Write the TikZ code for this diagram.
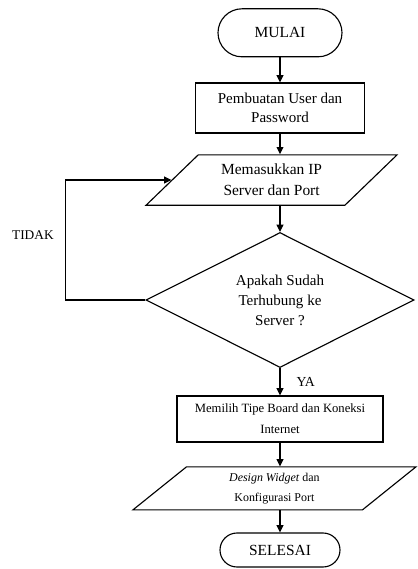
\documentclass[tikz,border=0pt]{standalone}
\usepackage{fontspec}
\setmainfont{Liberation Serif}
\usepackage{tikz}
\usetikzlibrary{arrows.meta,positioning,shapes.geometric,shapes.misc,calc}

\begin{document}
\begin{tikzpicture}[
    line width=0.8pt,
    term/.style={draw, rounded rectangle, inner sep=0pt, font=\fontsize{11}{14}\selectfont},
    proc/.style={draw, rectangle, align=center, inner sep=0pt},
    io/.style={draw, trapezium, trapezium stretches body, align=center, inner xsep=0pt},
    dec/.style={draw, diamond, aspect=2, align=center, inner sep=0pt, font=\fontsize{10.7}{14.2}\selectfont},
    arr/.style={-{Triangle[length=1.8mm,width=1.7mm]}},
  ]
    \useasboundingbox (0,0) rectangle (10.45,-14.225);
    % Steps
    \node[term, minimum width=3.1cm, minimum height=1.2cm] (mulai) at (7.0,-0.82) {MULAI};
    \node[proc, minimum width=4.225cm, minimum height=1.25cm, font=\fontsize{10.7}{13.5}\selectfont]
         (buatuser) at (7.0,-2.7) {Pembuatan User dan\\Password};
    \node[io, trapezium left angle=44, trapezium right angle=136, inner ysep=0.23cm,
          minimum width=6.275cm, minimum height=1.25cm, font=\fontsize{11}{15}\selectfont]
         (inputip) at (6.79,-4.5) {Memasukkan IP\\Server dan Port};
    \node[dec, minimum width=6.7cm, minimum height=3.375cm]
         (cekserver) at (7.0,-7.5) {Apakah Sudah\\Terhubung ke\\Server ?};
    \node[proc, minimum width=5.15cm, minimum height=1.15cm, font=\fontsize{9}{14.9}\selectfont]
         (pilihboard) at (7.0,-10.475) {Memilih Tipe Board dan Koneksi\\Internet};
    \node[io, trapezium left angle=38.5, trapezium right angle=141.5, inner ysep=0.15cm,
          minimum width=7.075cm, minimum height=1.075cm, font=\fontsize{8.5}{14}\selectfont]
         (widget) at (6.86,-12.21) {\textit{Design Widget} dan\\Konfigurasi Port};
    \node[term, minimum width=3.0cm, minimum height=0.85cm] (selesai) at (7.0,-13.75) {SELESAI};
    % Arrows
    \draw[arr] (mulai.south) -- (buatuser.north);
    \draw[arr] (buatuser.south) -- (buatuser.south |- inputip.north);
    \draw[arr] (cekserver.north |- inputip.south) -- (cekserver.north);
    \draw[arr] (cekserver.south) -- (cekserver.south |- pilihboard.north)
         node[pos=0.5, right=0.4cm, inner sep=0pt, font=\fontsize{9.8}{12}\selectfont] (ya) {YA};
    \draw[arr] (pilihboard.south) -- (pilihboard.south |- widget.north);
    \draw[arr] (selesai.north |- widget.south) -- (selesai.north);
    \draw[arr] (cekserver.west) -- ++(-2.0,0) |-
         node[pos=0.27, left=0.28cm, inner sep=0pt, font=\fontsize{9.5}{12}\selectfont] (tidak) {TIDAK}
         (inputip.west);
\end{tikzpicture}
\end{document}
